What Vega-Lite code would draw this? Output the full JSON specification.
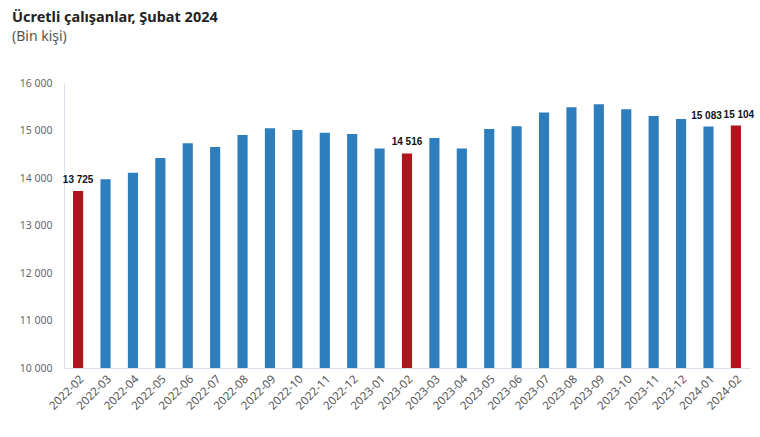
{
  "$schema": "https://vega.github.io/schema/vega-lite/v6.json",
  "autosize": {"type": "none"},
  "width": 686,
  "height": 285,
  "padding": {"left": 64, "top": 83, "right": 10, "bottom": 69},
  "background": "white",
  "title": {
    "text": "Ücretli çalışanlar, Şubat 2024",
    "subtitle": "(Bin kişi)",
    "anchor": "start",
    "frame": "group",
    "dx": -52,
    "offset": 33,
    "font": "Noto Sans",
    "fontSize": 14.5,
    "fontWeight": "bold",
    "color": "#222222",
    "subtitleFont": "Noto Sans",
    "subtitleFontSize": 14,
    "subtitleColor": "#555555",
    "subtitlePadding": 5
  },
  "config": {
    "view": {"stroke": null},
    "axis": {"grid": false, "ticks": false, "domainColor": "#d9e1ea", "labelColor": "#666666", "labelFont": "Noto Sans", "labelFontSize": 10.5, "title": null}
  },
  "data": {
    "values": [
      {"ay": "2022-02", "deger": 13725, "subat": "evet", "etiket": "orta"},
      {"ay": "2022-03", "deger": 13975, "subat": "hayir", "etiket": "yok"},
      {"ay": "2022-04", "deger": 14113, "subat": "hayir", "etiket": "yok"},
      {"ay": "2022-05", "deger": 14421, "subat": "hayir", "etiket": "yok"},
      {"ay": "2022-06", "deger": 14731, "subat": "hayir", "etiket": "yok"},
      {"ay": "2022-07", "deger": 14653, "subat": "hayir", "etiket": "yok"},
      {"ay": "2022-08", "deger": 14906, "subat": "hayir", "etiket": "yok"},
      {"ay": "2022-09", "deger": 15047, "subat": "hayir", "etiket": "yok"},
      {"ay": "2022-10", "deger": 15011, "subat": "hayir", "etiket": "yok"},
      {"ay": "2022-11", "deger": 14955, "subat": "hayir", "etiket": "yok"},
      {"ay": "2022-12", "deger": 14927, "subat": "hayir", "etiket": "yok"},
      {"ay": "2023-01", "deger": 14619, "subat": "hayir", "etiket": "yok"},
      {"ay": "2023-02", "deger": 14516, "subat": "evet", "etiket": "orta"},
      {"ay": "2023-03", "deger": 14842, "subat": "hayir", "etiket": "yok"},
      {"ay": "2023-04", "deger": 14619, "subat": "hayir", "etiket": "yok"},
      {"ay": "2023-05", "deger": 15032, "subat": "hayir", "etiket": "yok"},
      {"ay": "2023-06", "deger": 15089, "subat": "hayir", "etiket": "yok"},
      {"ay": "2023-07", "deger": 15377, "subat": "hayir", "etiket": "yok"},
      {"ay": "2023-08", "deger": 15489, "subat": "hayir", "etiket": "yok"},
      {"ay": "2023-09", "deger": 15552, "subat": "hayir", "etiket": "yok"},
      {"ay": "2023-10", "deger": 15447, "subat": "hayir", "etiket": "yok"},
      {"ay": "2023-11", "deger": 15306, "subat": "hayir", "etiket": "yok"},
      {"ay": "2023-12", "deger": 15243, "subat": "hayir", "etiket": "yok"},
      {"ay": "2024-01", "deger": 15083, "subat": "hayir", "etiket": "sol"},
      {"ay": "2024-02", "deger": 15104, "subat": "evet", "etiket": "sag"}
    ]
  },
  "encoding": {
    "x": {
      "field": "ay", "type": "ordinal", "sort": null,
      "scale": {"paddingInner": 0.63, "paddingOuter": 0.33},
      "axis": {"labelAngle": -45, "labelPadding": 5, "labelFontSize": 11.5, "labelColor": "#555555"}
    },
    "y": {
      "field": "deger", "type": "quantitative",
      "scale": {"domain": [10000, 16000], "zero": false, "nice": false},
      "axis": {"values": [10000, 11000, 12000, 13000, 14000, 15000, 16000], "labelPadding": 12, "labelExpr": "replace(format(datum.value, ','), ',', ' ')"}
    }
  },
  "layer": [
    {
      "mark": {"type": "bar", "clip": true},
      "encoding": {
        "y2": {"datum": 10000},
        "color": {"field": "subat", "type": "nominal", "scale": {"domain": ["evet", "hayir"], "range": ["#b0141d", "#2e7dbd"]}, "legend": null}
      }
    },
    {
      "transform": [
        {"filter": "datum.etiket == 'orta'"},
        {"calculate": "replace(format(datum.deger, ','), ',', ' ')", "as": "metin"}
      ],
      "mark": {"type": "text", "baseline": "bottom", "dy": -6, "font": "Liberation Sans", "fontWeight": "bold", "fontSize": 10, "color": "#111111"},
      "encoding": {"text": {"field": "metin"}}
    },
    {
      "transform": [
        {"filter": "datum.etiket == 'sol'"},
        {"calculate": "replace(format(datum.deger, ','), ',', ' ')", "as": "metin"}
      ],
      "mark": {"type": "text", "baseline": "bottom", "dy": -6, "dx": -2, "font": "Liberation Sans", "fontWeight": "bold", "fontSize": 10, "color": "#111111"},
      "encoding": {"text": {"field": "metin"}}
    },
    {
      "transform": [
        {"filter": "datum.etiket == 'sag'"},
        {"calculate": "replace(format(datum.deger, ','), ',', ' ')", "as": "metin"}
      ],
      "mark": {"type": "text", "baseline": "bottom", "dy": -6, "dx": 3, "font": "Liberation Sans", "fontWeight": "bold", "fontSize": 10, "color": "#111111"},
      "encoding": {"text": {"field": "metin"}}
    }
  ]
}
